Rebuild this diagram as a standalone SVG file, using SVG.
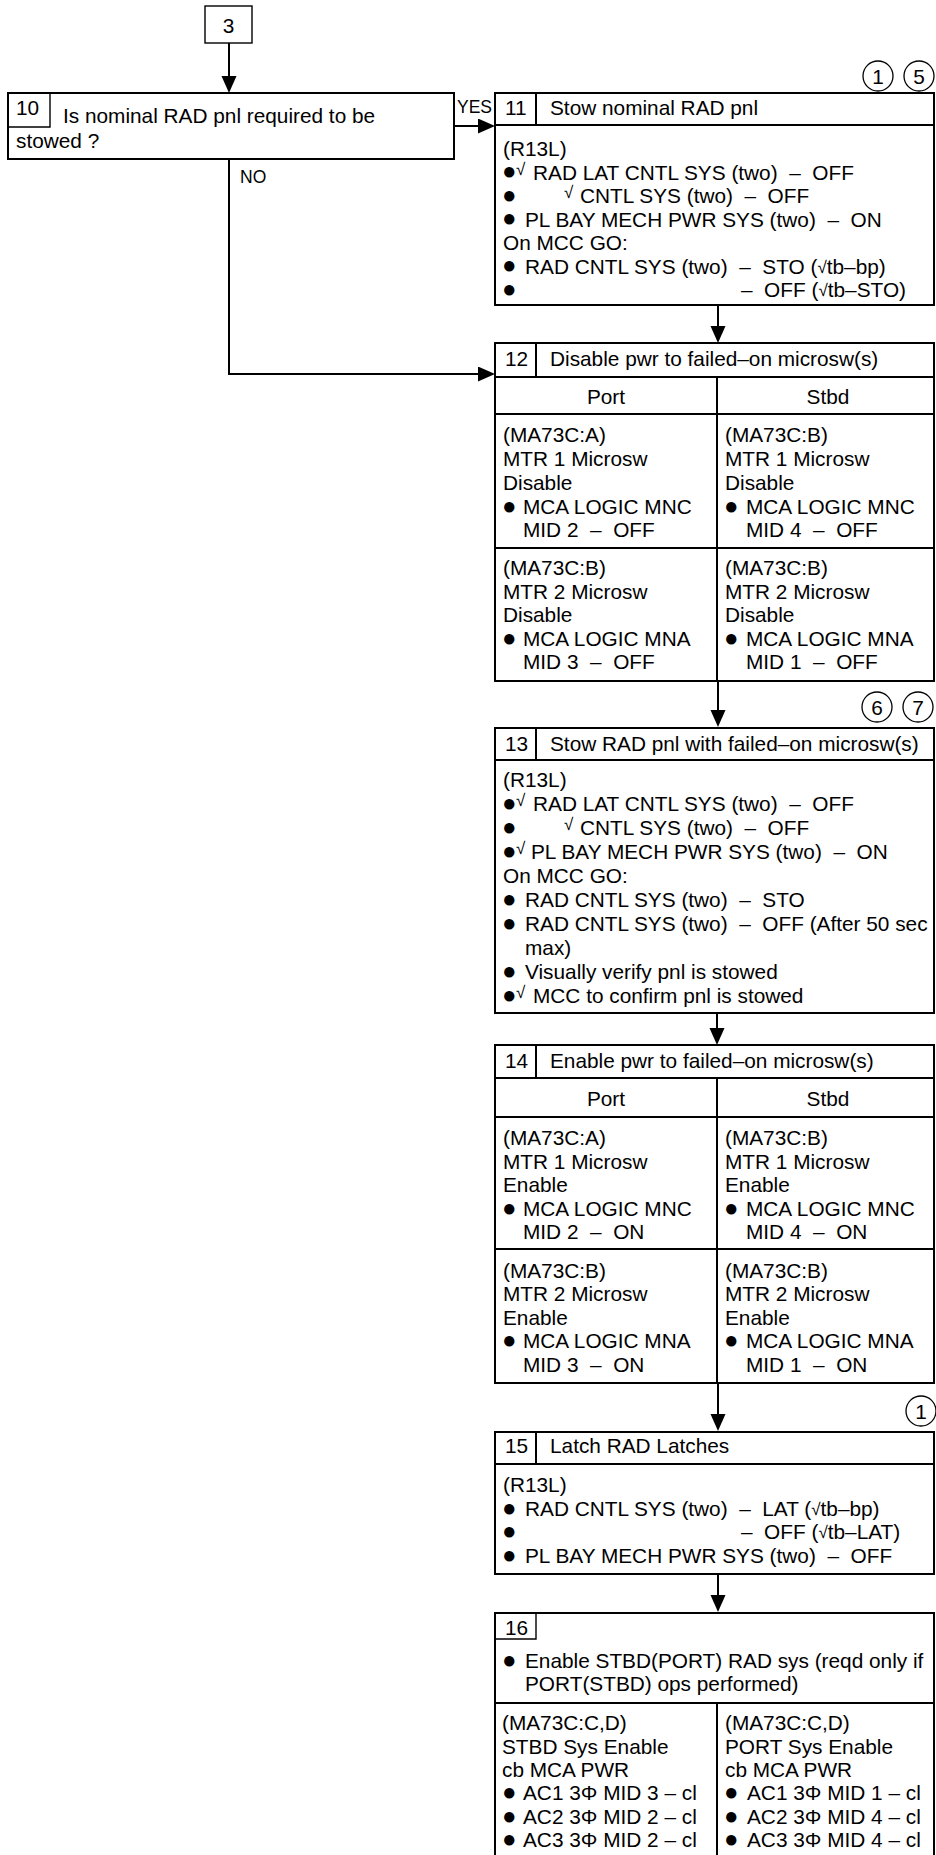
<svg xmlns="http://www.w3.org/2000/svg" width="936" height="1855" viewBox="0 0 936 1855">
<style>
text{font-family:"Liberation Sans",Arial,Helvetica,sans-serif;font-size:20.8px;fill:#000}
.s{font-size:17.5px}
.b{font-size:24px}
.ck{font-size:17px}
.box{fill:none;stroke:#000;stroke-width:2}
.thin{fill:none;stroke:#000;stroke-width:1.4}
.ln{fill:none;stroke:#000;stroke-width:2}
.cir{fill:#fff;stroke:#000;stroke-width:1.3}
.conn path{fill:none;stroke:#000;stroke-width:2;marker-end:url(#ah)}
</style>
<defs>
<marker id="ah" markerUnits="userSpaceOnUse" markerWidth="18" markerHeight="16" refX="7" refY="7.5" orient="auto"><path d="M0,0 L17,7.5 L0,15 z" fill="#000"/></marker>
</defs>
<rect width="936" height="1855" fill="#fff"/>

<g id="node-3">
<rect class="thin" x="205" y="6" width="47" height="37"/>
<text x="228.5" y="33" text-anchor="middle">3</text>
</g>

<g id="node-10">
<rect class="box" x="8" y="93" width="446" height="66"/>
<path class="thin" d="M8,127 H50 V93"/>
<text x="16" y="115">10</text>
<text x="63" y="123">Is nominal RAD pnl required to be</text>
<text x="16" y="148">stowed ?</text>
</g>

<g id="node-11">
<circle class="cir" cx="878" cy="76" r="15"/><text x="878" y="84" text-anchor="middle">1</text>
<circle class="cir" cx="919" cy="76" r="15"/><text x="919" y="84" text-anchor="middle">5</text>
<rect class="box" x="495" y="93" width="439" height="212"/>
<path class="ln" d="M495,125 H934 M536,93 V125"/>
<text x="505" y="115">11</text>
<text x="550" y="115">Stow nominal RAD pnl</text>
<text x="503" y="156">(R13L)</text>
<text class="b" x="502" y="179">●</text>
<text y="179.5" xml:space="preserve"><tspan class="ck" x="516" dy="-5">√</tspan><tspan x="533" dy="5">RAD LAT CNTL SYS (two)  –  OFF</tspan></text>
<text class="b" x="502" y="202.5">●</text>
<text y="203" xml:space="preserve"><tspan class="ck" x="564" dy="-5">√</tspan><tspan x="580" dy="5">CNTL SYS (two)  –  OFF</tspan></text>
<text class="b" x="502" y="226">●</text>
<text x="525" y="226.5" xml:space="preserve">PL BAY MECH PWR SYS (two)  –  ON</text>
<text x="503" y="250">On MCC GO:</text>
<text class="b" x="502" y="273">●</text>
<text y="273.5" xml:space="preserve"><tspan x="525">RAD CNTL SYS (two)  –  STO (</tspan><tspan class="ck" dy="-1">√</tspan><tspan dy="1">tb–bp)</tspan></text>
<text class="b" x="502" y="296.5">●</text>
<text y="297" xml:space="preserve"><tspan x="741">–  OFF (</tspan><tspan class="ck" dy="-1">√</tspan><tspan dy="1">tb–STO)</tspan></text>
</g>

<g id="node-12">
<rect class="box" x="495" y="343" width="439" height="338"/>
<path class="ln" d="M495,377 H934 M536,343 V377 M495,414 H934 M495,548 H934 M717,377 V681"/>
<text x="505" y="366">12</text>
<text x="550" y="366">Disable pwr to failed–on microsw(s)</text>
<text x="606" y="404" text-anchor="middle">Port</text>
<text x="828" y="404" text-anchor="middle">Stbd</text>
<text x="503" y="442">(MA73C:A)</text>
<text x="503" y="466">MTR 1 Microsw</text>
<text x="503" y="490">Disable</text>
<text class="b" x="502" y="513.5">●</text>
<text x="523" y="514">MCA LOGIC MNC</text>
<text x="523" y="537" xml:space="preserve">MID 2  –  OFF</text>
<text x="725" y="442">(MA73C:B)</text>
<text x="725" y="466">MTR 1 Microsw</text>
<text x="725" y="490">Disable</text>
<text class="b" x="724" y="513.5">●</text>
<text x="746" y="514">MCA LOGIC MNC</text>
<text x="746" y="537" xml:space="preserve">MID 4  –  OFF</text>
<text x="503" y="575">(MA73C:B)</text>
<text x="503" y="599">MTR 2 Microsw</text>
<text x="503" y="622">Disable</text>
<text class="b" x="502" y="645.5">●</text>
<text x="523" y="646">MCA LOGIC MNA</text>
<text x="523" y="669" xml:space="preserve">MID 3  –  OFF</text>
<text x="725" y="575">(MA73C:B)</text>
<text x="725" y="599">MTR 2 Microsw</text>
<text x="725" y="622">Disable</text>
<text class="b" x="724" y="645.5">●</text>
<text x="746" y="646">MCA LOGIC MNA</text>
<text x="746" y="669" xml:space="preserve">MID 1  –  OFF</text>
</g>

<g id="node-13">
<circle class="cir" cx="877" cy="707" r="15"/><text x="877" y="715" text-anchor="middle">6</text>
<circle class="cir" cx="918" cy="707" r="15"/><text x="918" y="715" text-anchor="middle">7</text>
<rect class="box" x="495" y="728" width="439" height="285"/>
<path class="ln" d="M495,760 H934 M536,728 V760"/>
<text x="505" y="751">13</text>
<text x="550" y="751">Stow RAD pnl with failed–on microsw(s)</text>
<text x="503" y="787">(R13L)</text>
<text class="b" x="502" y="810.5">●</text>
<text y="811" xml:space="preserve"><tspan class="ck" x="516" dy="-5">√</tspan><tspan x="533" dy="5">RAD LAT CNTL SYS (two)  –  OFF</tspan></text>
<text class="b" x="502" y="834.5">●</text>
<text y="835" xml:space="preserve"><tspan class="ck" x="564" dy="-5">√</tspan><tspan x="580" dy="5">CNTL SYS (two)  –  OFF</tspan></text>
<text class="b" x="502" y="858.5">●</text>
<text y="859" xml:space="preserve"><tspan class="ck" x="516" dy="-5">√</tspan><tspan x="531" dy="5">PL BAY MECH PWR SYS (two)  –  ON</tspan></text>
<text x="503" y="883">On MCC GO:</text>
<text class="b" x="502" y="906.5">●</text>
<text x="525" y="907" xml:space="preserve">RAD CNTL SYS (two)  –  STO</text>
<text class="b" x="502" y="930.5">●</text>
<text x="525" y="931" xml:space="preserve">RAD CNTL SYS (two)  –  OFF (After 50 sec</text>
<text x="525" y="955">max)</text>
<text class="b" x="502" y="978.5">●</text>
<text x="525" y="979">Visually verify pnl is stowed</text>
<text class="b" x="502" y="1002.5">●</text>
<text y="1003"><tspan class="ck" x="516" dy="-5">√</tspan><tspan x="533" dy="5">MCC to confirm pnl is stowed</tspan></text>
</g>

<g id="node-14">
<rect class="box" x="495" y="1045" width="439" height="338"/>
<path class="ln" d="M495,1078 H934 M536,1045 V1078 M495,1117 H934 M495,1249 H934 M717,1078 V1383"/>
<text x="505" y="1068">14</text>
<text x="550" y="1068">Enable pwr to failed–on microsw(s)</text>
<text x="606" y="1106" text-anchor="middle">Port</text>
<text x="828" y="1106" text-anchor="middle">Stbd</text>
<text x="503" y="1145">(MA73C:A)</text>
<text x="503" y="1169">MTR 1 Microsw</text>
<text x="503" y="1192">Enable</text>
<text class="b" x="502" y="1215.5">●</text>
<text x="523" y="1216">MCA LOGIC MNC</text>
<text x="523" y="1239" xml:space="preserve">MID 2  –  ON</text>
<text x="725" y="1145">(MA73C:B)</text>
<text x="725" y="1169">MTR 1 Microsw</text>
<text x="725" y="1192">Enable</text>
<text class="b" x="724" y="1215.5">●</text>
<text x="746" y="1216">MCA LOGIC MNC</text>
<text x="746" y="1239" xml:space="preserve">MID 4  –  ON</text>
<text x="503" y="1278">(MA73C:B)</text>
<text x="503" y="1301">MTR 2 Microsw</text>
<text x="503" y="1325">Enable</text>
<text class="b" x="502" y="1347.5">●</text>
<text x="523" y="1348">MCA LOGIC MNA</text>
<text x="523" y="1372" xml:space="preserve">MID 3  –  ON</text>
<text x="725" y="1278">(MA73C:B)</text>
<text x="725" y="1301">MTR 2 Microsw</text>
<text x="725" y="1325">Enable</text>
<text class="b" x="724" y="1347.5">●</text>
<text x="746" y="1348">MCA LOGIC MNA</text>
<text x="746" y="1372" xml:space="preserve">MID 1  –  ON</text>
</g>

<g id="node-15">
<circle class="cir" cx="921" cy="1411" r="15"/><text x="921" y="1419" text-anchor="middle">1</text>
<rect class="box" x="495" y="1432" width="439" height="142"/>
<path class="ln" d="M495,1464 H934 M536,1432 V1464"/>
<text x="505" y="1453">15</text>
<text x="550" y="1453">Latch RAD Latches</text>
<text x="503" y="1492">(R13L)</text>
<text class="b" x="502" y="1515.5">●</text>
<text y="1516" xml:space="preserve"><tspan x="525">RAD CNTL SYS (two)  –  LAT (</tspan><tspan class="ck" dy="-1">√</tspan><tspan dy="1">tb–bp)</tspan></text>
<text class="b" x="502" y="1538.5">●</text>
<text y="1539" xml:space="preserve"><tspan x="741">–  OFF (</tspan><tspan class="ck" dy="-1">√</tspan><tspan dy="1">tb–LAT)</tspan></text>
<text class="b" x="502" y="1562.5">●</text>
<text x="525" y="1563" xml:space="preserve">PL BAY MECH PWR SYS (two)  –  OFF</text>
</g>

<g id="node-16">
<path class="box" d="M495,1860 V1613 H934 V1860"/>
<path class="thin" d="M495,1639 H536 V1613"/>
<path class="ln" d="M495,1703 H934 M717,1703 V1860"/>
<text x="505" y="1635">16</text>
<text class="b" x="502" y="1667.5">●</text>
<text x="525" y="1668">Enable STBD(PORT) RAD sys (reqd only if</text>
<text x="525" y="1691">PORT(STBD) ops performed)</text>
<text x="502" y="1730">(MA73C:C,D)</text>
<text x="502" y="1754">STBD Sys Enable</text>
<text x="502" y="1777">cb MCA PWR</text>
<text class="b" x="502" y="1799.5">●</text>
<text x="523" y="1800">AC1 3Φ MID 3 – cl</text>
<text class="b" x="502" y="1823.5">●</text>
<text x="523" y="1824">AC2 3Φ MID 2 – cl</text>
<text class="b" x="502" y="1846.5">●</text>
<text x="523" y="1847">AC3 3Φ MID 2 – cl</text>
<text x="725" y="1730">(MA73C:C,D)</text>
<text x="725" y="1754">PORT Sys Enable</text>
<text x="725" y="1777">cb MCA PWR</text>
<text class="b" x="724" y="1799.5">●</text>
<text x="747" y="1800">AC1 3Φ MID 1 – cl</text>
<text class="b" x="724" y="1823.5">●</text>
<text x="747" y="1824">AC2 3Φ MID 4 – cl</text>
<text class="b" x="724" y="1846.5">●</text>
<text x="747" y="1847">AC3 3Φ MID 4 – cl</text>
</g>

<g id="connectors" class="conn">
<path d="M229,43 V83"/>
<path d="M454,126 H485"/>
<path d="M229,159 V374 H485"/>
<path d="M718,305 V333"/>
<path d="M718,681 V717"/>
<path d="M717,1013 V1035"/>
<path d="M718,1383 V1421"/>
<path d="M718,1574 V1602"/>
<text class="s" x="457" y="113">YES</text>
<text class="s" x="240" y="183">NO</text>
</g>
</svg>
